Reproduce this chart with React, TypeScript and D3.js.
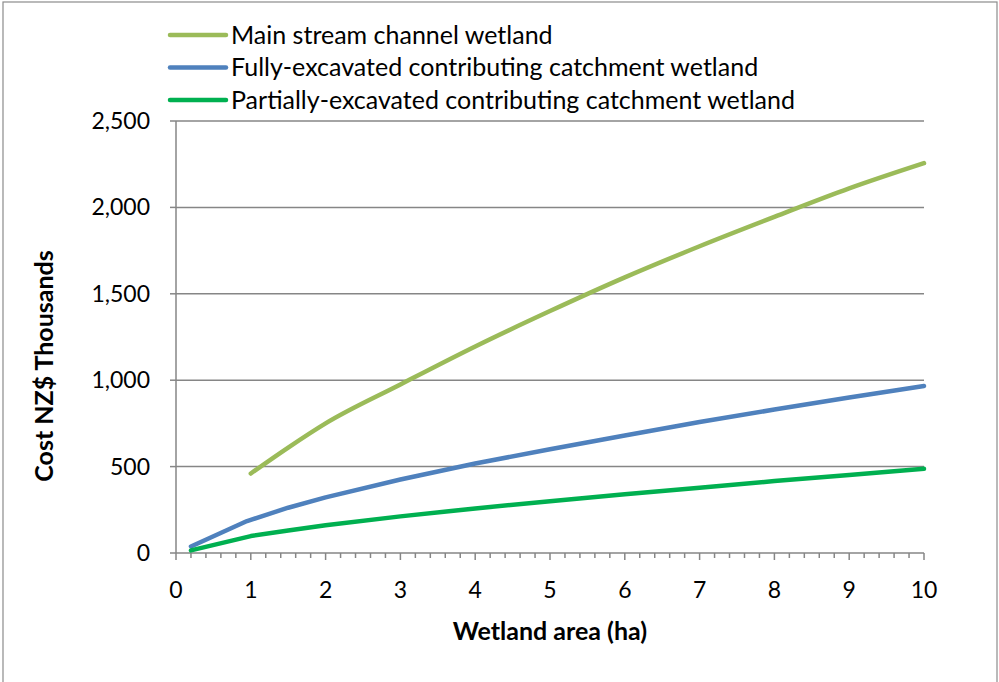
import React from "react";
import * as d3 from "d3";

const mainX = [1, 1.5, 2, 3, 4, 5, 6, 7, 8, 9, 10];
const mainY = [460, 610, 750, 975, 1195, 1400, 1595, 1775, 1945, 2110, 2256];
const fullyX = [0.2, 0.95, 1.5, 2, 3, 4, 5, 6, 7, 8, 9, 10];
const fullyY = [38, 185, 262, 322, 425, 518, 600, 680, 758, 830, 900, 966];
const partX = [0.2, 1, 1.5, 2, 3, 4, 5, 6, 7, 8, 9, 10];
const partY = [15, 98, 130, 160, 212, 258, 300, 340, 378, 416, 452, 487];
const seriesNames = [
  "Main stream channel wetland",
  "Fully-excavated contributing catchment wetland",
  "Partially-excavated contributing catchment wetland",
];
const seriesColors = ["#9BBB59", "#4F81BD", "#00B050"];
const xTicks = [0, 1, 2, 3, 4, 5, 6, 7, 8, 9, 10];
const yTicks = [0, 500, 1000, 1500, 2000, 2500];

export default function App() {
  const W = 999, H = 682;
  const x = d3.scaleLinear().domain([0, 10]).range([176, 924]);
  const y = d3.scaleLinear().domain([0, 2500]).range([553, 121]);
  const line = d3.line<[number, number]>().x(d => x(d[0])).y(d => y(d[1]));
  const series = [
    mainX.map((v, i) => [v, mainY[i]] as [number, number]),
    fullyX.map((v, i) => [v, fullyY[i]] as [number, number]),
    partX.map((v, i) => [v, partY[i]] as [number, number]),
  ];
  const minor = d3.range(0, 50.5, 1).map(i => i / 5);
  const font = "Lato, 'Open Sans', sans-serif";
  const grid = "#868686";
  return (
    <svg width={W} height={H} style={{ position: "absolute", left: 0, top: 0 }}>
      <rect x={0} y={0} width={W} height={H} fill="#fff" />
      <rect x={3} y={2} width={994} height={700} fill="none" stroke="#8c8c8c" strokeWidth={1.2} />
      {yTicks.slice(1).map(t => (
        <line key={t} x1={x(0)} x2={x(10)} y1={y(t)} y2={y(t)} stroke={grid} strokeWidth={1.5} />
      ))}
      <line x1={x(0)} x2={x(0)} y1={y(2500)} y2={y(0)} stroke={grid} strokeWidth={1.5} />
      <line x1={x(0)} x2={x(10)} y1={y(0)} y2={y(0)} stroke={grid} strokeWidth={1.5} />
      {yTicks.map(t => (
        <line key={"yt" + t} x1={x(0) - 6} x2={x(0)} y1={y(t)} y2={y(t)} stroke={grid} strokeWidth={1.5} />
      ))}
      {minor.map(t => {
        const major = Math.abs(t - Math.round(t)) < 1e-6;
        return (
          <line key={"xt" + t} x1={x(t)} x2={x(t)} y1={y(0)} y2={y(0) + (major ? 7 : 5)} stroke={grid} strokeWidth={1.5} />
        );
      })}
      {yTicks.map(t => (
        <text key={"yl" + t} x={150} y={y(t)} dy="0.35em" textAnchor="end" fontFamily={font} fontSize={23} fill="#000">
          {d3.format(",")(t)}
        </text>
      ))}
      {xTicks.map(t => (
        <text key={"xl" + t} x={x(t)} y={590} dy="0.35em" textAnchor="middle" fontFamily={font} fontSize={23} fill="#000">
          {t}
        </text>
      ))}
      <text x={550} y={631} dy="0.35em" textAnchor="middle" fontFamily={font} fontSize={25} fontWeight="bold" fill="#000">
        Wetland area (ha)
      </text>
      <text transform="translate(44,366) rotate(-90)" dy="0.35em" textAnchor="middle" fontFamily={font} fontSize={25} fontWeight="bold" fill="#000">
        Cost NZ$ Thousands
      </text>
      {series.map((s, i) => (
        <path key={"s" + i} d={(i === 0 ? line.curve(d3.curveMonotoneX) : line.curve(d3.curveLinear))(s) || ""} fill="none" stroke={seriesColors[i]} strokeWidth={4.5} strokeLinecap="round" strokeLinejoin="round" />
      ))}
      {seriesNames.map((n, i) => {
        const ly = 35 + i * 32.5;
        return (
          <g key={"lg" + i}>
            <line x1={170} x2={226} y1={ly} y2={ly} stroke={seriesColors[i]} strokeWidth={4.5} strokeLinecap="round" />
            <text x={231} y={ly} dy="0.35em" fontFamily={font} fontSize={25} fill="#000">{n}</text>
          </g>
        );
      })}
    </svg>
  );
}
